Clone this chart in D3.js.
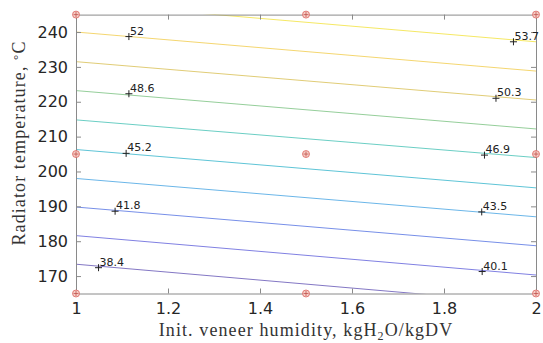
<!DOCTYPE html>
<html>
<head>
<meta charset="utf-8">
<script src="https://cdn.jsdelivr.net/npm/d3@7"></script>
<style>
body { margin: 0; background: #fff; }
</style>
</head>
<body>
<script>
// contour levels and where each level line crosses x=1 and x=2 (deg C)
var levels = [38.4, 40.1, 41.8, 43.5, 45.2, 46.9, 48.6, 50.3, 52, 53.7];
var yAtLeft = [173.4, 181.6, 189.8, 198.0, 206.3, 214.8, 223.2, 231.5, 240.0, 248.4];
var yAtRight = [162.0, 170.3, 178.7, 187.0, 195.3, 204.0, 212.2, 220.5, 228.8, 237.2];

// label anchor points ("+" marks)
var labelText = ["38.4", "41.8", "45.2", "48.6", "52", "40.1", "43.5", "46.9", "50.3", "53.7"];
var labelX = [1.049, 1.085, 1.109, 1.115, 1.115, 1.883, 1.882, 1.888, 1.913, 1.951];
var labelY = [172.4, 188.6, 205.2, 222.3, 238.7, 171.3, 188.4, 204.7, 221.0, 237.2];

// design points
var pointsX = [1, 1.5, 2, 1, 1.5, 2, 1, 1.5, 2];
var pointsY = [165, 165, 165, 205, 205, 205, 245, 245, 245];

var xTicks = [1, 1.2, 1.4, 1.6, 1.8, 2];
var yTicks = [170, 180, 190, 200, 210, 220, 230, 240];

var lineColors = ["#5a4ab0", "#5555d8", "#4a6ae0", "#3a9de0", "#28b0c8", "#3abdb0",
                  "#72be78", "#d6bb48", "#f0c840", "#f2e030"];

var width = 543, height = 343;
var margin = {top: 14.6, right: 7, bottom: 49.5, left: 76};
var iw = width - margin.left - margin.right;
var ih = height - margin.top - margin.bottom;

var svg = d3.select("body").append("svg")
    .attr("width", width).attr("height", height);

var g = svg.append("g").attr("transform", "translate(" + margin.left + "," + margin.top + ")");

var x = d3.scaleLinear().domain([1, 2]).range([0, iw]);
var y = d3.scaleLinear().domain([165, 245]).range([ih, 0]);

g.append("clipPath").attr("id", "clip")
  .append("rect").attr("width", iw).attr("height", ih);

// contour lines
g.append("g").attr("clip-path", "url(#clip)")
  .selectAll("line")
  .data(levels)
  .enter().append("line")
    .attr("x1", x(1))
    .attr("y1", function(d, i) { return y(yAtLeft[i]); })
    .attr("x2", x(2))
    .attr("y2", function(d, i) { return y(yAtRight[i]); })
    .attr("stroke", function(d, i) { return lineColors[i]; })
    .attr("stroke-width", 1)
    .attr("stroke-opacity", 0.75);

// axes
var axisColor = "#8a8a8a", textColor = "#262626";

function styleAxis(sel) {
  sel.select(".domain").attr("stroke", axisColor);
  sel.selectAll(".tick line").attr("stroke", axisColor);
  sel.selectAll(".tick text").attr("fill", textColor)
    .attr("font-family", "DejaVu Sans").attr("font-size", 16);
}

g.append("g").attr("transform", "translate(0," + ih + ")")
  .call(d3.axisBottom(x).tickValues(xTicks).tickFormat(d3.format("")).tickSizeInner(-5).tickSizeOuter(0).tickPadding(9))
  .call(styleAxis);

g.append("g")
  .call(d3.axisLeft(y).tickValues(yTicks).tickSizeInner(-5).tickSizeOuter(0).tickPadding(8))
  .call(styleAxis);

g.append("g")
  .call(d3.axisTop(x).tickValues(xTicks).tickFormat("").tickSizeInner(-5).tickSizeOuter(0))
  .call(styleAxis);

g.append("g").attr("transform", "translate(" + iw + ",0)")
  .call(d3.axisRight(y).tickValues(yTicks).tickFormat("").tickSizeInner(-5).tickSizeOuter(0))
  .call(styleAxis);

// contour labels
var lab = g.append("g").selectAll("g")
  .data(labelText)
  .enter().append("g")
    .attr("transform", function(d, i) { return "translate(" + x(labelX[i]) + "," + y(labelY[i]) + ")"; });

lab.append("path")
  .attr("d", "M-3.5,0H3.5M0,-3.5V3.5")
  .attr("stroke", "#222").attr("stroke-width", 1);

lab.append("text")
  .text(function(d) { return d; })
  .attr("x", 1)
  .attr("y", -2)
  .attr("fill", "#222")
  .attr("font-family", "DejaVu Sans")
  .attr("font-size", 11);

// design points
var pts = g.append("g").selectAll("g")
  .data(pointsX)
  .enter().append("g")
    .attr("transform", function(d, i) { return "translate(" + x(d) + "," + y(pointsY[i]) + ")"; });

pts.append("circle")
  .attr("r", 3.5)
  .attr("fill", "#f6d0c8")
  .attr("stroke", "#d9534f")
  .attr("stroke-opacity", 0.7)
  .attr("stroke-width", 1);

pts.append("path")
  .attr("d", "M-2.5,0H2.5M0,-2.5V2.5")
  .attr("stroke", "#c0504d").attr("stroke-width", 0.8);

// axis titles
var xt = svg.append("text")
  .attr("x", margin.left + iw / 2)
  .attr("y", 336)
  .attr("text-anchor", "middle")
  .attr("fill", "#333")
  .attr("font-family", "Liberation Serif")
  .attr("font-size", 18)
  .attr("letter-spacing", 1.1);
xt.append("tspan").text("Init.  veneer humidity, kgH");
xt.append("tspan").text("2").attr("font-size", 12).attr("dy", 4);
xt.append("tspan").text("O/kgDV").attr("dy", -4);

var yt = svg.append("text")
  .attr("transform", "translate(25,143) rotate(-90)")
  .attr("text-anchor", "middle")
  .attr("fill", "#333")
  .attr("font-family", "Liberation Serif")
  .attr("font-size", 18)
  .attr("letter-spacing", 1.1);
yt.append("tspan").text("Radiator temperature, ");
yt.append("tspan").text("°").attr("font-size", 13).attr("dy", -3);
yt.append("tspan").text("C").attr("dy", 3);
</script>
</body>
</html>
